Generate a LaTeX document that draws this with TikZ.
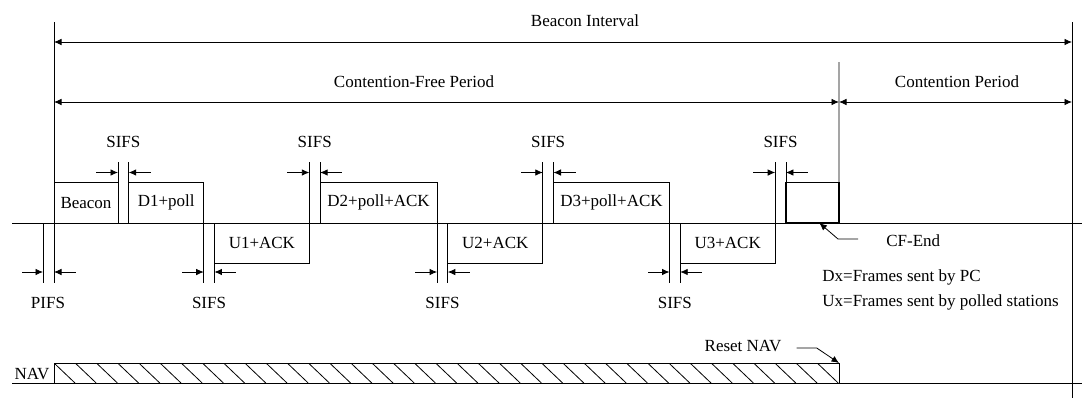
\documentclass[tikz,border=0pt]{standalone}
\usepackage{fontspec}
\setmainfont{Liberation Serif}
\usetikzlibrary{positioning,arrows.meta,calc}

\begin{document}
\begin{tikzpicture}
        [x=1pt, y=-1pt, font=\fontsize{17}{19}\selectfont,
        line width=0.8pt, >={Latex[length=7.5pt,width=6.5pt]},
        frame/.style={draw, inner sep=0pt, outer sep=0pt, minimum height=40.5pt},
        upbox/.style={frame, anchor=south west},
        downbox/.style={frame, anchor=north west},
        lbl/.style={inner sep=0pt}]
        \useasboundingbox (0,0) rectangle (1082,400);
        % rows used by the gap markers
        \coordinate (tickUp) at (0,162);
        \coordinate (arrowUp) at (0,172.5);
        \coordinate (labelUp) at (0,142);
        \coordinate (tickLow) at (0,283);
        \coordinate (arrowLow) at (0,272);
        \coordinate (labelLow) at (0,303);
        \coordinate (biL) at (54,22);
        \coordinate (biR) at (1072,22);
        \coordinate (cpL) at (839,62);
        \coordinate (tlL) at (12,223);
        \coordinate (tlR) at (1082,223);
        \coordinate (navL) at (12,383);
        \coordinate (navR) at (1082,383);

        % frames on the medium
        \node[upbox, minimum width=64pt] (beacon) at (54,223) {Beacon};
        \node[upbox, minimum width=75pt] (dA) at ([xshift=10.7pt]beacon.south east) {D1+poll};
        \node[downbox, minimum width=95pt] (uA) at ([xshift=10.7pt]dA.south east) {U1+ACK};
        \node[upbox, minimum width=117pt] (dB) at ([xshift=10.7pt]uA.north east) {D2+poll+ACK};
        \node[downbox, minimum width=95pt] (uB) at ([xshift=10.7pt]dB.south east) {U2+ACK};
        \node[upbox, minimum width=116pt] (dC) at ([xshift=10.7pt]uB.north east) {D3+poll+ACK};
        \node[downbox, minimum width=95pt] (uC) at ([xshift=10.7pt]dC.south east) {U3+ACK};
        \node[upbox, minimum width=53pt, line width=1.3pt] (cfend) at ([xshift=10.7pt]uC.north east) {};

        \draw (tlL) -- (tlR);

        % periods
        \draw (biL) -- (biL |- tickLow);
        \draw (biR) -- (biR |- 0,398);
        \draw (cpL) -- (cfend.south east);
        \draw[<->] (biL |- 0,42) -- (biR |- 0,42);
        \draw[<->] (biL |- 0,102) -- (cpL |- 0,102);
        \draw[<->] (cpL |- 0,102) -- (biR |- 0,102);
        \node[lbl] (bint) at (585,21) {Beacon Interval};
        \node[lbl] (cfp) at (414,82) {Contention-Free Period};
        \node[lbl] (cp) at (957,82) {Contention Period};

        % SIFS above the line
        \foreach \a/\b in {beacon/dA, uA/dB, uB/dC, uC/cfend} {
            \draw (\a.south east) -- (\a.east |- tickUp);
            \draw (\b.south west) -- (\b.west |- tickUp);
            \draw[<-] (\a.east |- arrowUp) -- ++(-22,0);
            \draw[<-] (\b.west |- arrowUp) -- ++(22,0);
            \coordinate (m) at ($(\a.east)!.5!(\b.west)$);
            \node[lbl] (sifsup-\a) at (m |- labelUp) {SIFS};
        }

        % SIFS below the line
        \foreach \a/\b in {dA/uA, dB/uB, dC/uC} {
            \draw (\a.north east) -- (\a.east |- tickLow);
            \draw (\b.north west) -- (\b.west |- tickLow);
            \draw[<-] (\a.east |- arrowLow) -- ++(-22,0);
            \draw[<-] (\b.west |- arrowLow) -- ++(22,0);
            \coordinate (m) at ($(\a.east)!.5!(\b.west)$);
            \node[lbl] (sifslow-\a) at (m |- labelLow) {SIFS};
        }

        % PIFS before the beacon
        \coordinate (pifsL) at (43,223);
        \draw (pifsL) -- (pifsL |- tickLow);
        \draw[<-] (pifsL |- arrowLow) -- ++(-21,0);
        \draw[<-] (biL |- arrowLow) -- ++(22,0);
        \node[lbl] (pifs) at (48,303) {PIFS};

        \node[lbl, anchor=west] (cfendlbl) at (886,241) {CF-End};
        \draw[->] ([xshift=-28pt, yshift=2pt]cfendlbl.west) -- ++(-20,0) -- ([xshift=7pt]cfend.south);

        \node[lbl, anchor=west] (dx) at (822,277) {Dx=Frames sent by PC};
        \node[lbl, anchor=west] (ux) at (822,302) {Ux=Frames sent by polled stations};

        % network allocation vector
        \draw (navL) -- (navR);
        \node[lbl] (navlbl) at (32,374) {NAV};
        \node[draw, inner sep=0pt, outer sep=0pt, anchor=south west, minimum width=785pt, minimum height=20pt] (nav) at (54,383) {};
        \begin{scope}
            \clip (nav.south west) rectangle (nav.north east);
            \foreach \i in {0,...,37}
                \draw (54+21.2*\i,363) -- ++(21,20);
        \end{scope}
        \node[lbl] (reset) at (743,346) {Reset NAV};
        \draw[->] ([xshift=15pt, yshift=-2pt]reset.east) -- ++(20,0) -- (nav.north east);
\end{tikzpicture}
\end{document}
